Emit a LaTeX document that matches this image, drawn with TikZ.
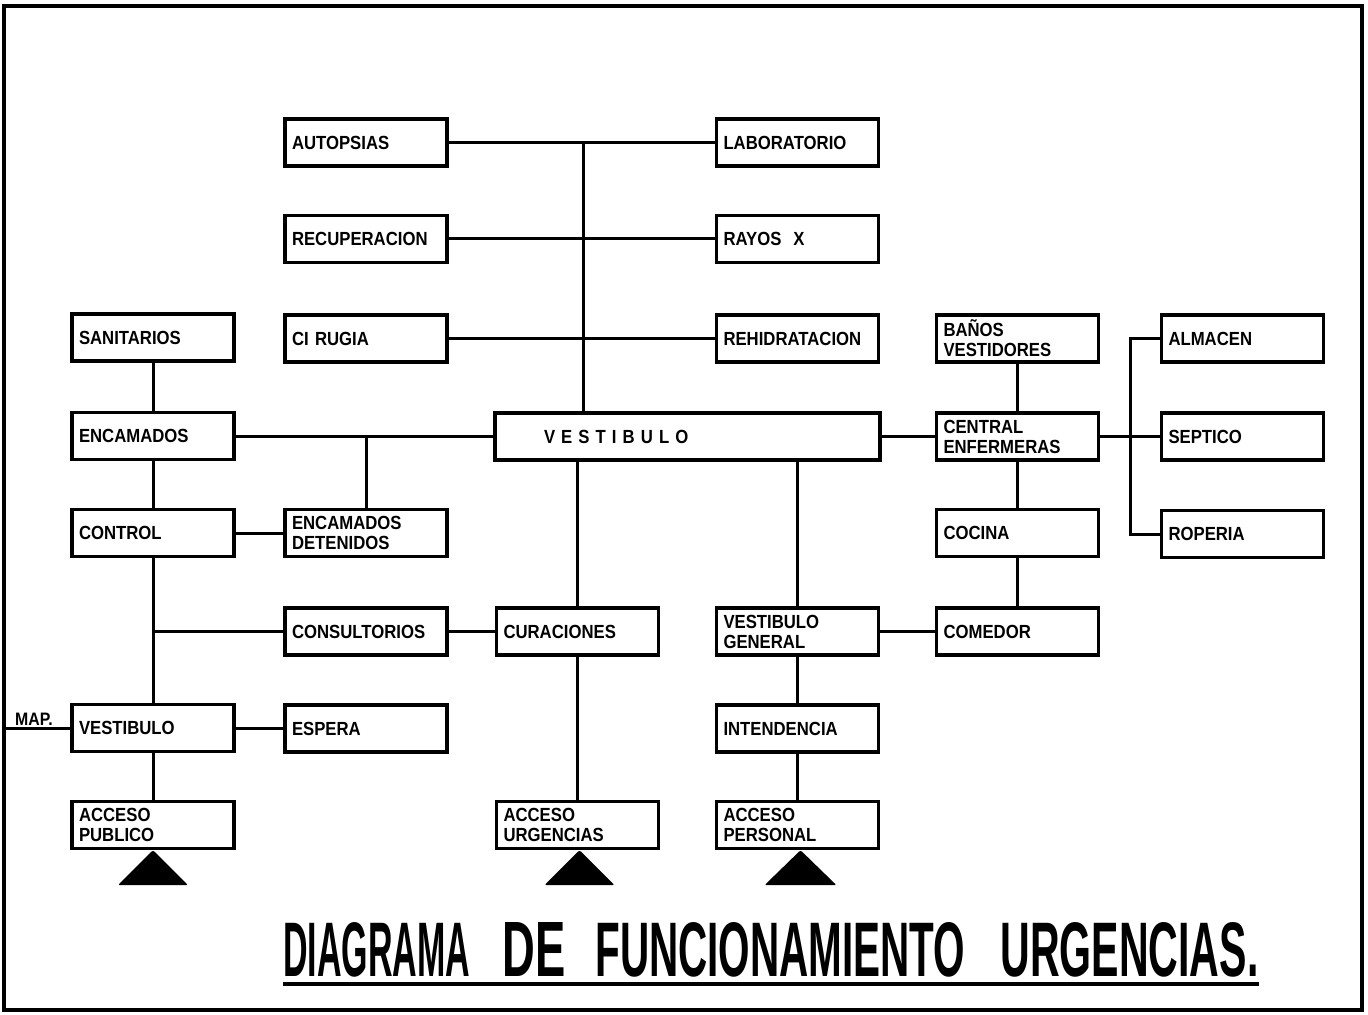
\documentclass[tikz,border=0pt]{standalone}
\usepackage{fontspec}
\usepackage{graphicx}
\setmainfont{Liberation Sans}[FakeStretch=0.88]
\begin{document}
\begin{tikzpicture}[x=0.5pt,y=-0.5pt,
  box/.style={draw, line width=1.7pt, minimum width=81pt, minimum height=23.5pt,
    text width=74pt, inner xsep=3.5pt, inner ysep=1pt, align=left,
    font=\bfseries\fontsize{9.5}{10}\selectfont},
  wide/.style={minimum width=192.5pt, text width=185.5pt},
  conn/.style={line width=1.5pt},
  tri/.style={fill=black, rounded corners=1pt}
]
\useasboundingbox (0,0) rectangle (1368,1015);
\draw[line width=2pt] (4,6) rectangle (1362,1010);

% top rows
\node[box] (autop) at (366,142.5) {AUTOPSIAS};
\node[box] (lab) at (797.5,142.5) {LABORATORIO};
\node[box] (recup) at (366,239) {RECUPERACION};
\node[box] (rayos) at (797.5,239) {RAYOS\hspace{6pt}X};
\node[box] (cir) at (366,338.5) {CI RUGIA};
\node[box] (rehid) at (797.5,338.5) {REHIDRATACION};

% left column
\node[box] (sanit) at (153,337.5) {SANITARIOS};
\node[box] (encam) at (153,436) {ENCAMADOS};
\node[box] (ctrl) at (153,533) {CONTROL};
\node[box] (vestl) at (153,728) {VESTIBULO};
\node[box] (apub) at (153,825) {ACCESO\\PUBLICO};

% second column
\node[box] (encdet) at (366,533) {ENCAMADOS\\DETENIDOS};
\node[box] (cons) at (366,631.5) {CONSULTORIOS};
\node[box] (esp) at (366,728.5) {ESPERA};

% center
\node[box, wide] (vest) at (687.5,436.5) {\hspace*{21pt}{\addfontfeature{LetterSpace=32}VESTIBULO}};
\node[box] (cur) at (577.5,631.5) {CURACIONES};
\node[box] (aurg) at (577.5,825) {ACCESO\\URGENCIAS};
\node[box] (vgen) at (797.5,631.5) {VESTIBULO\\GENERAL};
\node[box] (intend) at (797.5,728.5) {INTENDENCIA};
\node[box] (apers) at (797.5,825) {ACCESO\\PERSONAL};

% right
\node[box] (banos) at (1017.5,338.5) {BAÑOS\\VESTIDORES};
\node[box] (cenf) at (1017.5,436.5) {CENTRAL\\ENFERMERAS};
\node[box] (coc) at (1017.5,533) {COCINA};
\node[box] (com) at (1017.5,631.5) {COMEDOR};
\node[box] (alm) at (1242.5,338.5) {ALMACEN};
\node[box] (sept) at (1242.5,436.5) {SEPTICO};
\node[box] (rop) at (1242.5,534) {ROPERIA};

% connectors
\draw[conn] (autop) -- (lab);
\draw[conn] (recup) -- (rayos);
\draw[conn] (cir) -- (rehid);
\coordinate (sp) at (583,142.5);
\draw[conn] (sp) -- (sp |- vest.north);

\draw[conn] (sanit) -- (encam);
\draw[conn] (encam) -- (ctrl);
\draw[conn] (ctrl) -- (vestl);
\draw[conn] (vestl) -- (apub);
\draw[conn] (encam.east) -- (encam.east -| vest.west);
\draw[conn] (encdet.north) -- (encdet.north |- encam.east);
\draw[conn] (ctrl) -- (encdet);
\draw[conn] (cons.west) -- (cons.west -| ctrl.south);
\draw[conn] (cons) -- (cur);
\draw[conn] (vestl.east) -- (vestl.east -| esp.west);
\draw[conn] (cur.north) -- (cur.north |- vest.south);
\draw[conn] (cur) -- (aurg);
\draw[conn] (vgen.north) -- (vgen.north |- vest.south);
\draw[conn] (vgen) -- (intend);
\draw[conn] (intend) -- (apers);
\draw[conn] (vgen) -- (com);
\draw[conn] (vest.east) -- (vest.east -| cenf.west);
\draw[conn] (banos) -- (cenf);
\draw[conn] (cenf) -- (coc);
\draw[conn] (coc) -- (com);
\draw[conn] (cenf) -- (sept);
\coordinate (bus) at (1130,0);
\draw[conn] (alm.west) -- (alm.west -| bus) -- (bus |- rop.west) -- (rop.west);

\coordinate (mapend) at (4,728);
\draw[conn] (mapend) -- (vestl.west);
\node[font=\bfseries\fontsize{9}{9}\selectfont, inner sep=0] (map) at (34,719) {MAP.};

% entrance triangles
\fill[tri] (apub.south) -- ++(-35,35) -- ++(70,0) -- cycle;
\fill[tri] ([xshift=1pt]aurg.south) -- ++(-35,35) -- ++(70,0) -- cycle;
\fill[tri] ([xshift=1.5pt]apers.south) -- ++(-36,35) -- ++(72,0) -- cycle;

% title
\node[anchor=base west, inner sep=0, font=\bfseries] (title) at (283,976)
  {\resizebox{93.5pt}{27pt}{DIAGRAMA}\hspace{16pt}\resizebox{31.5pt}{27pt}{DE}\hspace{15pt}\resizebox{185pt}{27pt}{FUNCIONAMIENTO}\hspace{17.5pt}\resizebox{129pt}{27pt}{URGENCIAS.}};
\draw[line width=2pt] ([yshift=-4pt]title.base west) -- ([yshift=-4pt]title.base east);
\end{tikzpicture}
\end{document}
